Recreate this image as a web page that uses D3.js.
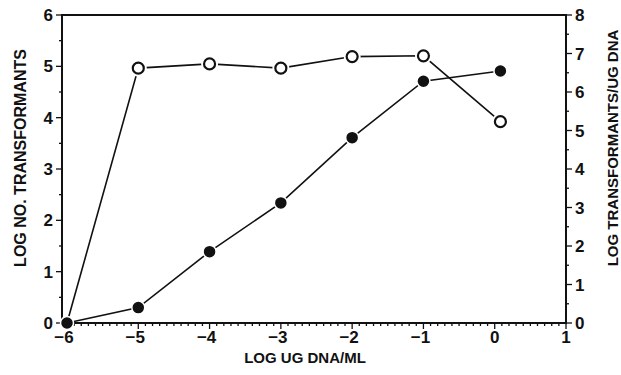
<!DOCTYPE html>
<html>
<head>
<meta charset="utf-8">
<script src="https://cdn.jsdelivr.net/npm/d3@7"></script>
<style>
  body { margin: 0; background: #fff; }
  svg { display: block; font-family: "Liberation Sans", Arial, sans-serif; }
  .tick-label { font-size: 17px; font-weight: bold; fill: #111; }
  .title { font-size: 15px; font-weight: bold; fill: #111; }
</style>
</head>
<body>
<script>
// log ug DNA/ml
var doses = [-6, -5, -4, -3, -2, -1, 0.08];
// left axis: log no. transformants (filled circles)
var logNo = [0, 0.30, 1.39, 2.34, 3.61, 4.71, 4.91];
// right axis: log transformants / ug DNA (open circles)
var logPerUg = [0, 6.62, 6.73, 6.62, 6.92, 6.94, 5.23];

var xTicks = [-6, -5, -4, -3, -2, -1, 0, 1];
var leftTicks = [0, 1, 2, 3, 4, 5, 6];
var rightTicks = [0, 1, 2, 3, 4, 5, 6, 7, 8];

var width = 621, height = 375;
var frame = {left: 62, right: 566, top: 15, bottom: 323};

var svg = d3.select("body").append("svg")
    .attr("width", width)
    .attr("height", height);

var x = d3.scaleLinear().domain([-6, 1]).range([67, frame.right]);
var yL = d3.scaleLinear().domain([0, 6]).range([frame.bottom, frame.top]);
var yR = d3.scaleLinear().domain([0, 8]).range([frame.bottom, frame.top]);

// frame
svg.append("rect")
    .attr("x", frame.left).attr("y", frame.top)
    .attr("width", frame.right - frame.left).attr("height", frame.bottom - frame.top)
    .attr("fill", "none").attr("stroke", "#111").attr("stroke-width", 2);

// x axis ticks (minor every 0.1)
var xMinor = d3.range(-60, 11).map(function(d) { return d / 10; });
svg.append("g").selectAll("line")
    .data(xMinor)
    .enter().append("line")
    .attr("x1", function(d) { return x(d); })
    .attr("x2", function(d) { return x(d); })
    .attr("y1", frame.bottom)
    .attr("y2", function(d) { return Math.abs(d - Math.round(d)) < 1e-6 ? frame.bottom + 6 : frame.bottom + 3; })
    .attr("stroke", "#111").attr("stroke-width", 1.3);

svg.append("g").selectAll("text")
    .data(xTicks)
    .enter().append("text")
    .attr("class", "tick-label")
    .attr("x", function(d) { return x(d) + (d < 0 ? -3 : 0); })
    .attr("y", frame.bottom + 20)
    .attr("text-anchor", "middle")
    .text(function(d) { return d < 0 ? "\u2212" + Math.abs(d) : d; });

// left axis ticks
var lMinor = d3.range(0, 13).map(function(d) { return d / 2; });
svg.append("g").selectAll("line")
    .data(lMinor)
    .enter().append("line")
    .attr("x1", frame.left)
    .attr("x2", function(d) { return d % 1 === 0 ? frame.left - 6 : frame.left - 3; })
    .attr("y1", function(d) { return yL(d); })
    .attr("y2", function(d) { return yL(d); })
    .attr("stroke", "#111").attr("stroke-width", 1.3);

svg.append("g").selectAll("text")
    .data(leftTicks)
    .enter().append("text")
    .attr("class", "tick-label")
    .attr("x", frame.left - 9)
    .attr("y", function(d) { return yL(d) + 6; })
    .attr("text-anchor", "end")
    .text(function(d) { return d; });

// right axis ticks
var rMinor = d3.range(0, 17).map(function(d) { return d / 2; });
svg.append("g").selectAll("line")
    .data(rMinor)
    .enter().append("line")
    .attr("x1", frame.right)
    .attr("x2", function(d) { return d % 1 === 0 ? frame.right + 6 : frame.right + 3; })
    .attr("y1", function(d) { return yR(d); })
    .attr("y2", function(d) { return yR(d); })
    .attr("stroke", "#111").attr("stroke-width", 1.3);

svg.append("g").selectAll("text")
    .data(rightTicks)
    .enter().append("text")
    .attr("class", "tick-label")
    .attr("x", frame.right + 9)
    .attr("y", function(d) { return yR(d) + 6; })
    .attr("text-anchor", "start")
    .text(function(d) { return d; });

// titles
svg.append("text")
    .attr("class", "title")
    .attr("x", 305).attr("y", 363)
    .attr("text-anchor", "middle")
    .text("LOG UG DNA/ML");

svg.append("text")
    .attr("class", "title")
    .style("font-size", "16px")
    .attr("transform", "translate(26,158) rotate(-90)")
    .attr("text-anchor", "middle")
    .text("LOG NO. TRANSFORMANTS");

svg.append("text")
    .attr("class", "title")
    .attr("transform", "translate(618,148) rotate(-90)")
    .attr("text-anchor", "middle")
    .text("LOG TRANSFORMANTS/UG DNA");

// series
var openData = doses.map(function(d, i) { return {x: d, y: logPerUg[i]}; });
var filledData = doses.map(function(d, i) { return {x: d, y: logNo[i]}; });

var lineR = d3.line().x(function(d) { return x(d.x); }).y(function(d) { return yR(d.y); });
var lineL = d3.line().x(function(d) { return x(d.x); }).y(function(d) { return yL(d.y); });

svg.append("path")
    .attr("d", lineR(openData))
    .attr("fill", "none").attr("stroke", "#111").attr("stroke-width", 1.6);

svg.append("path")
    .attr("d", lineL(filledData))
    .attr("fill", "none").attr("stroke", "#111").attr("stroke-width", 1.6);

// filled markers with a thin white ring
svg.append("g").selectAll("circle")
    .data(filledData)
    .enter().append("circle")
    .attr("cx", function(d) { return x(d.x); })
    .attr("cy", function(d) { return yL(d.y); })
    .attr("r", 6.5)
    .attr("fill", "#111").attr("stroke", "#fff").attr("stroke-width", 1.5);

// open markers with a white halo so lines stop short of them
var openG = svg.append("g").selectAll("g")
    .data(openData.slice(1))
    .enter().append("g")
    .attr("transform", function(d) { return "translate(" + x(d.x) + "," + yR(d.y) + ")"; });

openG.append("circle")
    .attr("r", 8.5)
    .attr("fill", "#fff");

openG.append("circle")
    .attr("r", 5.5)
    .attr("fill", "#fff").attr("stroke", "#111").attr("stroke-width", 2.2);
</script>
</body>
</html>
